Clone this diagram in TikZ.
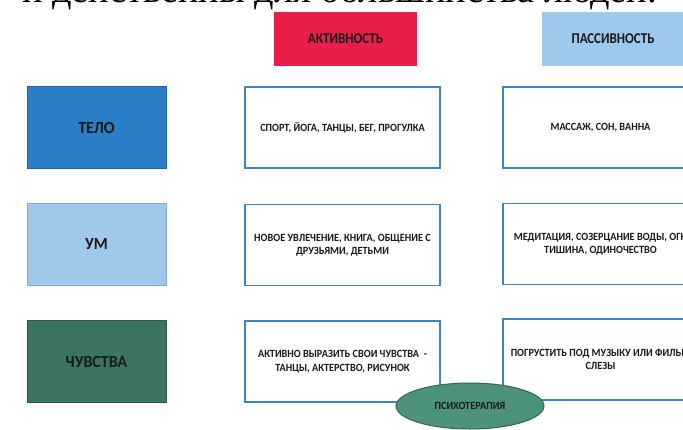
\documentclass[tikz,border=0pt]{standalone}
\usepackage{fontspec}
\setmainfont{Carlito}
\newfontfamily\serifru{Liberation Serif}
\newfontfamily\hdfont[FakeStretch=0.87]{Carlito}
\newfontfamily\lblfont[FakeStretch=0.94]{Carlito}
\newfontfamily\cellfont[FakeStretch=0.93]{Carlito}
\usetikzlibrary{shapes.geometric}
\definecolor{hdred}{HTML}{E91E4B}
\definecolor{hdblue}{HTML}{9DC9EC}
\definecolor{bodyblue}{HTML}{2A7FC6}
\definecolor{bodyline}{HTML}{22639C}
\definecolor{mindblue}{HTML}{A0C8EA}
\definecolor{mindline}{HTML}{86ABCC}
\definecolor{feelgreen}{HTML}{3B7460}
\definecolor{feelline}{HTML}{2C5848}
\definecolor{cellblue}{HTML}{3D85C6}
\definecolor{ovalgreen}{HTML}{4C937A}
\definecolor{ovalline}{HTML}{2F6652}
\definecolor{txt}{HTML}{1A1A1A}
\begin{document}
\begin{tikzpicture}[x=1pt,y=-1pt,
  header/.style={minimum width=143pt, minimum height=54pt, inner sep=0pt,
    font=\hdfont\bfseries\fontsize{15}{17}\selectfont, text=txt},
  rowlabel/.style={minimum width=139pt, minimum height=82pt, inner sep=0pt,
    line width=1pt, font=\lblfont\bfseries\fontsize{17}{19}\selectfont, text=txt},
  cell/.style={draw=cellblue, line width=1.6pt, fill=white, minimum width=195pt,
    minimum height=81pt, inner sep=0pt, align=center,
    font=\cellfont\bfseries\fontsize{11}{13.5}\selectfont, text=txt},
  oval/.style={ellipse, draw=ovalline, line width=1pt, fill=ovalgreen,
    minimum width=148pt, minimum height=46pt, inner sep=0pt,
    font=\cellfont\bfseries\fontsize{11}{12}\selectfont, text=txt}]
\useasboundingbox (0,0) rectangle (683,429);
\clip (0,0) rectangle (683,429);
\fill[white] (0,0) rectangle (683,429);

\node[anchor=base west, inner sep=0pt, text=black,
  font=\serifru\fontsize{38.4}{42}\selectfont] (title) at (22,2.5)
  {и действенны для большинства людей.};

\node[header, fill=hdred] (act) at (345.5,39) {АКТИВНОСТЬ};
\node[header, fill=hdblue] (pas) at (613,39) {ПАССИВНОСТЬ};

\node[rowlabel, fill=bodyblue, draw=bodyline] (body) at (96.5,127.5) {ТЕЛО};
\node[rowlabel, fill=mindblue, draw=mindline] (mind) at (96.5,244.5) {УМ};
\node[rowlabel, fill=feelgreen, draw=feelline] (feel) at (96.5,361.5) {ЧУВСТВА};

\node[cell] (bodyact) at (342.5,127.5) {СПОРТ, ЙОГА, ТАНЦЫ, БЕГ, ПРОГУЛКА};
\node[cell] (mindact) at (342.5,245) {НОВОЕ УВЛЕЧЕНИЕ, КНИГА, ОБЩЕНИЕ С\\ДРУЗЬЯМИ, ДЕТЬМИ};
\node[cell] (feelact) at (342.5,361.5) {АКТИВНО ВЫРАЗИТЬ СВОИ ЧУВСТВА\ \ -\\ТАНЦЫ, АКТЕРСТВО, РИСУНОК};

\node[cell] (bodypas) at (600.5,127.5) {МАССАЖ, СОН, ВАННА};
\node[cell] (mindpas) at (600.5,244) {МЕДИТАЦИЯ, СОЗЕРЦАНИЕ ВОДЫ, ОГН\\ТИШИНА, ОДИНОЧЕСТВО};
\node[cell] (feelpas) at (600.5,359.5) {ПОГРУСТИТЬ ПОД МУЗЫКУ ИЛИ ФИЛЬМ\\СЛЕЗЫ};

\node[oval] (therapy) at (470,406) {ПСИХОТЕРАПИЯ};
\end{tikzpicture}
\end{document}
